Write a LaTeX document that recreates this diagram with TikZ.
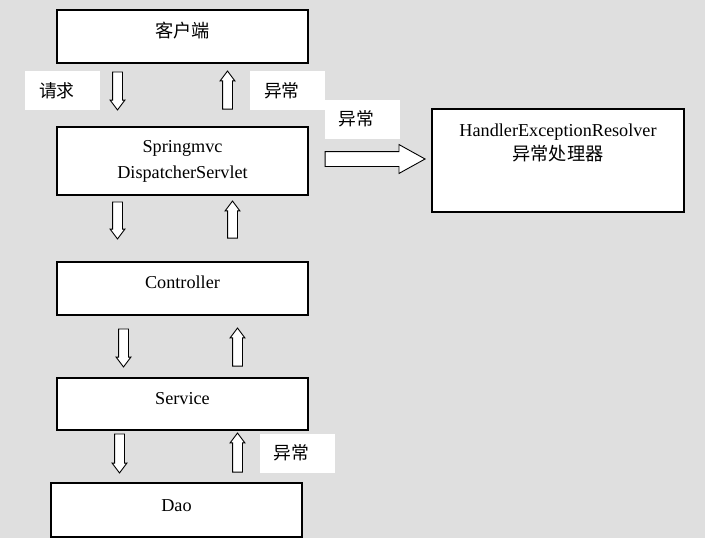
\documentclass[tikz,border=0pt]{standalone}
\usepackage{fontspec}
\setmainfont{Liberation Serif}
\newfontfamily\cjk{Noto Sans CJK SC}
\usetikzlibrary{shapes.arrows}
\definecolor{bg}{RGB}{223,223,223}
\begin{document}
\begin{tikzpicture}[x=1pt,y=1pt,
  box/.style={draw=black, fill=white, line width=1.2pt, inner sep=0pt},
  txt/.style={anchor=base, inner sep=0pt, font=\fontsize{18.2}{25}\selectfont},
  tag/.style={fill=white, inner xsep=14pt, inner ysep=0pt, text width=47pt,
    minimum height=39pt, align=left, font=\cjk\fontsize{17.8}{25}\selectfont},
  flow/.style={single arrow, draw=black, fill=white, line width=0.9pt,
    inner xsep=0pt, inner ysep=4.5pt, single arrow head extend=2.5pt,
    single arrow tip angle=74, single arrow head indent=0pt, anchor=tail},
  arrdown/.style={flow, rotate=-90, minimum height=#1},
  arrup/.style={flow, rotate=90, minimum height=#1},
]
% canvas
\fill[bg] (0,0) rectangle (705,-538);
\useasboundingbox (0,0) rectangle (705,-538);

% layers
\node[box, minimum width=251pt, minimum height=53pt] (client) at (182.5,-36.5) {};
\node[box, minimum width=251pt, minimum height=68pt] (spring) at (182.5,-161) {};
\node[box, minimum width=252pt, minimum height=103pt] (handler) at (558,-160.5) {};
\node[box, minimum width=251pt, minimum height=53pt] (ctrl) at (182.5,-288.5) {};
\node[box, minimum width=251pt, minimum height=52pt] (service) at (182.5,-404) {};
\node[box, minimum width=251pt, minimum height=54pt] (dao) at (176.5,-510) {};

% layer captions
\node[txt] at ([yshift=-28pt]client.north) {\cjk 客户端};
\node[txt] at ([yshift=-26pt]spring.north) {Springmvc};
\node[txt] at ([yshift=-52pt]spring.north) {DispatcherServlet};
\node[txt] at ([yshift=-28pt]handler.north) {HandlerExceptionResolver};
\node[txt] at ([yshift=-52pt]handler.north) {\cjk 异常处理器};
\node[txt] at ([yshift=-27pt]ctrl.north) {Controller};
\node[txt] at ([yshift=-27pt]service.north) {Service};
\node[txt] at ([yshift=-29pt]dao.north) {Dao};

% request / exception tags
\node[tag] (req)  at (62.5,-90.5) {请求};
\node[tag] (exc1) at (287.5,-90.5) {异常};
\node[tag] (exc2) at (362,-119) {异常};
\node[tag] (exc3) at (297,-453) {异常};

% block arrows between layers
\node[arrdown=38pt] (d1) at (117.5,-71.5) {};
\node[arrup=38pt]   (u1) at (227.5,-109.5) {};
\node[arrdown=37pt] (d2) at (117.5,-201.5) {};
\node[arrup=37pt]   (u2) at (232.5,-238.5) {};
\node[arrdown=38pt] (d3) at (123.5,-328.5) {};
\node[arrup=38pt]   (u3) at (237.5,-366.5) {};
\node[arrdown=39pt] (d4) at (119.5,-433.5) {};
\node[arrup=39pt]   (u4) at (237.5,-472.5) {};

% hand-off to the exception resolver
\node[flow, inner ysep=7pt, single arrow head extend=7pt, single arrow tip angle=58,
  minimum height=100pt] (toh) at ([xshift=16pt,yshift=2pt]spring.east) {};
\end{tikzpicture}
\end{document}
